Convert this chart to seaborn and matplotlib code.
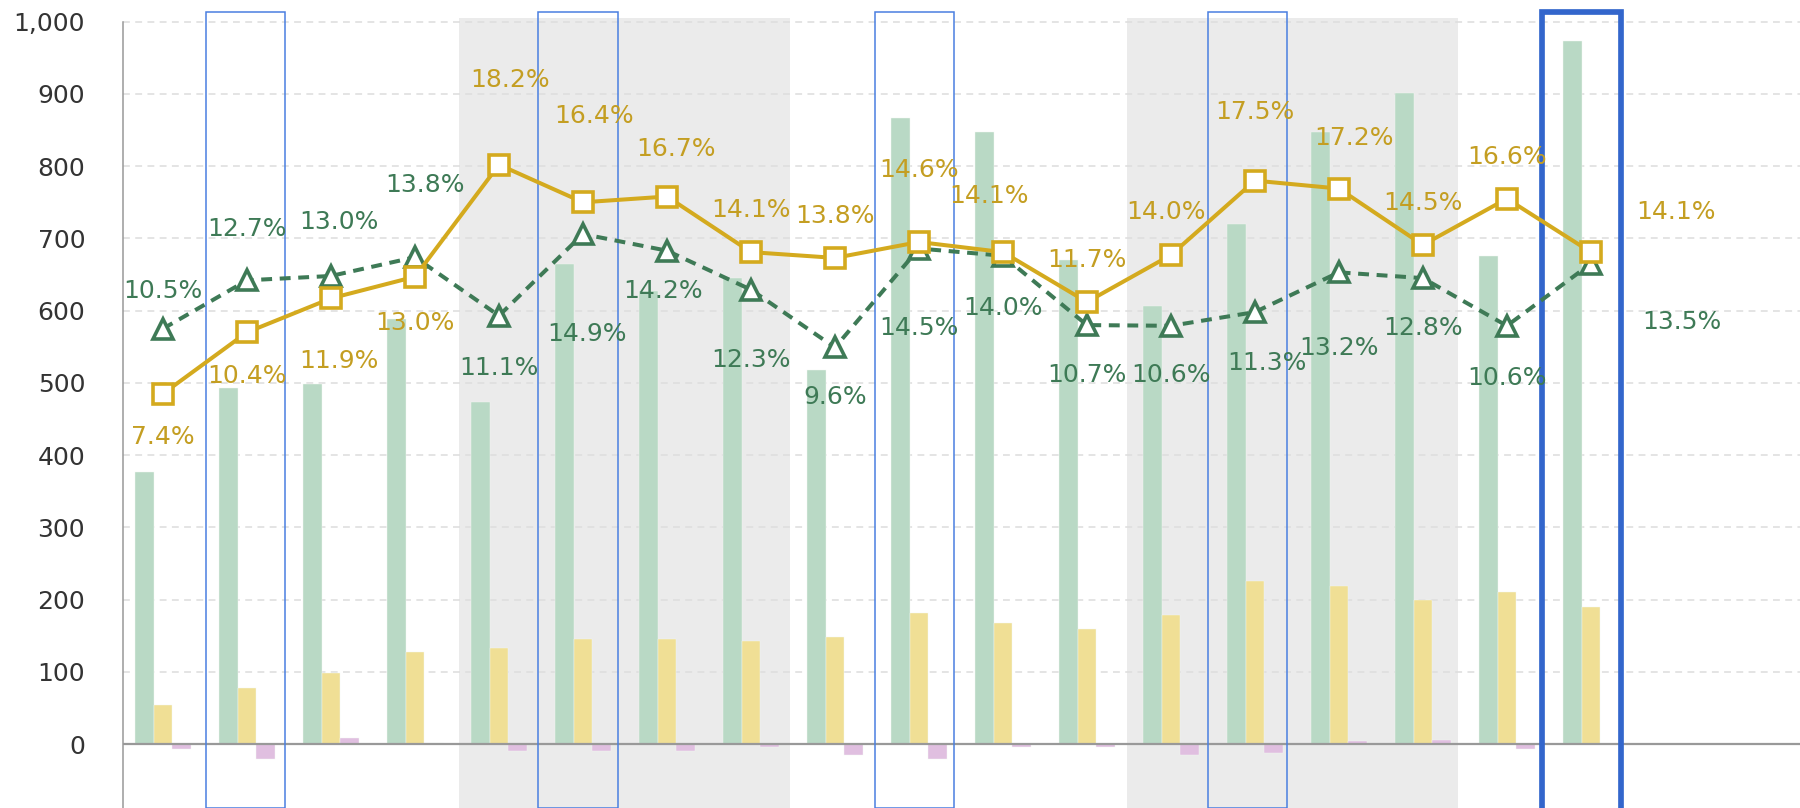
import numpy as np
import pandas as pd
import matplotlib
matplotlib.use("Agg")
import matplotlib.pyplot as plt
from matplotlib.patches import Rectangle
from matplotlib.ticker import FuncFormatter
import seaborn as sns


CATEGORIES = [f"P{i + 1:02d}" for i in range(18)]

# bar series
VOLUME = [377, 493, 499, 589, 474, 665, 627, 645, 518,
          867, 847, 670, 607, 720, 847, 902, 676, 974]
SECONDARY = [54, 78, 98, 128, 133, 145, 145, 142, 148,
             181, 167, 159, 178, 225, 219, 200, 211, 189]
CHANGE = [-7, -21, 9, 1, -10, -10, -10, -4, -15,
          -21, -4, -4, -15, -12, 4, 6, -7, 0]

# line series (plotted on the same scale)
SQUARE_VALUES = [485, 570, 617, 647, 802, 750, 758, 681, 673,
                 695, 681, 612, 677, 780, 769, 691, 755, 681]
TRIANGLE_VALUES = [575, 642, 648, 674, 593, 706, 683, 629, 549,
                   686, 676, 580, 579, 598, 653, 645, 579, 665]

SQUARE_PCT = [7.4, 10.4, 11.9, 13.0, 18.2, 16.4, 16.7, 14.1, 13.8,
              14.6, 14.1, 11.7, 14.0, 17.5, 17.2, 14.5, 16.6, 14.1]
TRIANGLE_PCT = [10.5, 12.7, 13.0, 13.8, 11.1, 14.9, 14.2, 12.3, 9.6,
                14.5, 14.0, 10.7, 10.6, 11.3, 13.2, 12.8, 10.6, 13.5]

# label placement, pixels (right, up) from the marker
SQUARE_OFFSETS = [(0, -43), (0, -44), (8, -63), (0, -46), (11, 85), (11, 86),
                  (9, 48), (0, 42), (0, 42), (0, 72), (-14, 56), (0, 42),
                  (-5, 43), (0, 69), (15, 51), (0, 42), (0, 42), (85, 40)]
TRIANGLE_OFFSETS = [(0, 38), (0, 51), (8, 54), (10, 72), (0, -52), (4, -100),
                    (-4, -40), (0, -70), (0, -50), (0, -79), (0, -52), (0, -50),
                    (0, -49), (12, -51), (0, -76), (0, -50), (0, -52), (91, -58)]

# highlight overlays, in category units
SHADE_SPANS = [(3.52, 7.46), (11.48, 15.42)]
BOX_LEFT = [0.512, 4.468, 8.476, 12.436]
FOCUS_LEFT = 16.42
BOX_WIDTH = 0.944

YMIN, YMAX = -88.6, 1019

GREEN_BAR = "#b9d9c5"
YELLOW_BAR = "#f0df95"
PINK_BAR = "#e0bfe0"
GOLD = "#d4aa1e"
GOLD_TEXT = "#c49e22"
GREEN = "#3e7a56"
BLUE = "#4a7fe0"
BLUE_FOCUS = "#3366cc"


def main():
    sns.set_style("white")
    plt.rcParams["font.family"] = ["DejaVu Sans"]

    fig = plt.figure(figsize=(18, 8.08), dpi=100)
    ax = fig.add_axes([122.7 / 1800, 0, 1 - 122.7 / 1800, 800 / 808])

    n = len(CATEGORIES)
    x = np.arange(n)

    df = pd.DataFrame({
        "category": CATEGORIES * 3,
        "series": ["volume"] * n + ["secondary"] * n + ["change"] * n,
        "value": VOLUME + SECONDARY + CHANGE,
    })

    # shaded groups
    for start, end in SHADE_SPANS:
        ax.add_patch(Rectangle((start, YMIN), end - start, 1005 - YMIN,
                               facecolor="#ebebeb", edgecolor="none",
                               zorder=0, clip_on=False))

    # dashed grid
    for v in range(100, 1001, 100):
        ax.axhline(v, color="#dddddd", lw=1.1, ls=(0, (4.5, 3.5)), zorder=0.5)

    sns.barplot(
        data=df,
        x="category",
        y="value",
        hue="series",
        order=CATEGORIES,
        hue_order=["volume", "secondary", "change"],
        palette=[GREEN_BAR, YELLOW_BAR, PINK_BAR],
        width=0.665,
        gap=0,
        edgecolor="#f4f8f4",
        linewidth=0.3,
        saturation=1,
        errorbar=None,
        legend=False,
        ax=ax,
        zorder=2,
    )

    ax.axhline(0, color="#999999", lw=1.6, zorder=2.2)

    # outlined categories
    for left in BOX_LEFT:
        ax.add_patch(Rectangle((left, YMIN), BOX_WIDTH, 1013 - YMIN,
                               fill=False, edgecolor=BLUE, lw=1.1,
                               zorder=2.5, clip_on=False))
    ax.add_patch(Rectangle((FOCUS_LEFT, YMIN - 5), BOX_WIDTH, 1013 - YMIN + 5,
                           fill=False, edgecolor=BLUE_FOCUS, lw=4.1,
                           zorder=2.5, clip_on=False))

    ax.plot(x, TRIANGLE_VALUES, color=GREEN, lw=2.9, ls=(0, (2.7, 1.9)),
            marker="^", markersize=15, markerfacecolor="white",
            markeredgecolor=GREEN, markeredgewidth=2.6, zorder=3)
    ax.plot(x, SQUARE_VALUES, color=GOLD, lw=2.9,
            marker="s", markersize=14, markerfacecolor="white",
            markeredgecolor=GOLD, markeredgewidth=2.6, zorder=4)

    for i in range(n):
        ax.annotate(f"{SQUARE_PCT[i]:.1f}%", (x[i], SQUARE_VALUES[i]),
                    xytext=SQUARE_OFFSETS[i], textcoords="offset pixels",
                    ha="center", va="center", fontsize=18,
                    color=GOLD_TEXT, zorder=5)
        ax.annotate(f"{TRIANGLE_PCT[i]:.1f}%", (x[i], TRIANGLE_VALUES[i]),
                    xytext=TRIANGLE_OFFSETS[i], textcoords="offset pixels",
                    ha="center", va="center", fontsize=18,
                    color=GREEN, zorder=5)

    ax.set_xlim(-0.48, 19.49)
    ax.set_ylim(YMIN, YMAX)
    ax.set_yticks(range(0, 1001, 100))
    ax.yaxis.set_major_formatter(FuncFormatter(lambda v, _: f"{v:,.0f}"))
    ax.set_xticks([])
    ax.set_xlabel("")
    ax.set_ylabel("")
    ax.tick_params(axis="y", length=0, pad=27, labelsize=18,
                   labelcolor="#333333")

    for side in ["top", "right", "bottom"]:
        ax.spines[side].set_visible(False)
    ax.spines["left"].set_color("#999999")
    ax.spines["left"].set_linewidth(1.1)
    ax.spines["left"].set_bounds(YMIN, 1000)

    fig.savefig("out.png", dpi=100)


if __name__ == "__main__":
    main()
